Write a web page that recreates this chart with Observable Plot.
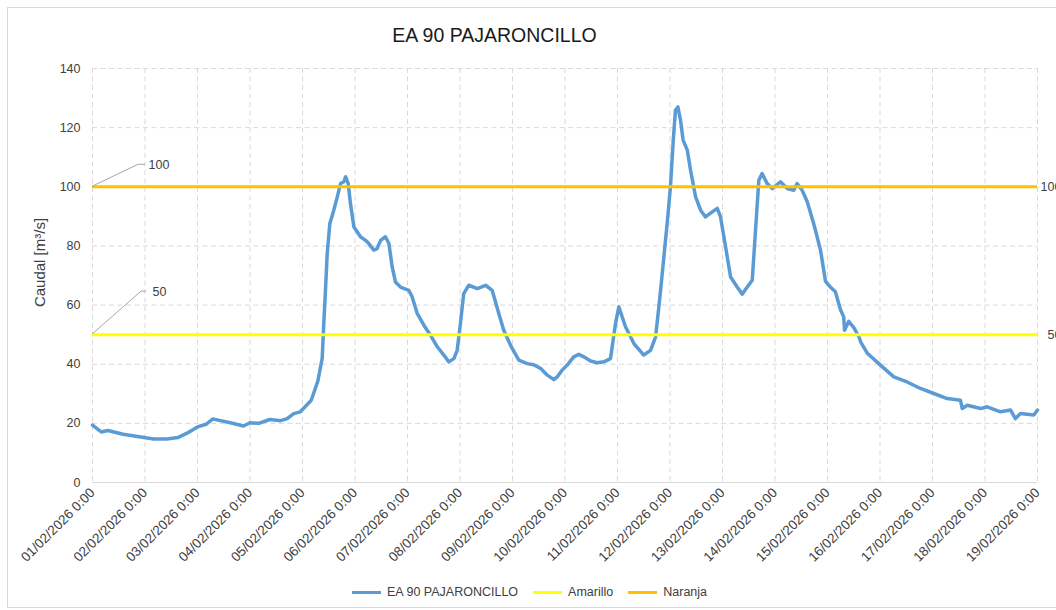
<!DOCTYPE html>
<html><head><meta charset="utf-8">
<script src="https://cdn.jsdelivr.net/npm/d3@7"></script>
<script src="https://cdn.jsdelivr.net/npm/@observablehq/plot@0.6"></script>
<style>
body{margin:0;background:#fff;font-family:"Liberation Sans",Arial,sans-serif;overflow:hidden}
#wrap{position:relative;width:1056px;height:610px;overflow:hidden;background:#fff}
#frame{position:absolute;left:7px;top:7px;width:1070px;height:601px;border:1px solid #d9d9d9;box-sizing:border-box}
#title{position:absolute;left:0;width:989px;top:24px;text-align:center;font-size:19.5px;color:#1a1a1a}
#chart{position:absolute;left:0;top:0}
#legend{position:absolute;top:585px;left:352px;display:flex;align-items:center;font-size:12.5px;color:#404040;white-space:nowrap}
#legend .it{display:flex;align-items:center;margin-right:15px}
#legend .sw{width:29px;height:3px;margin-right:6px}
</style>
</head><body>
<div id="wrap">
  <div id="frame"></div>
  <div id="chart"></div>
  <div id="title">EA 90 PAJARONCILLO</div>
  <div id="legend"></div>
</div>
<script>
// ---- data ----
const serieNombre = "EA 90 PAJARONCILLO";
const horas = [0,4,7,14,22,28,34,39,43,48,52,55,58,63,69,72,76,81,86,89,92,95,100,103,105,105.8,106.5,107.3,108.5,110.3,111.9,113.4,114.9,115.7,116.9,117.9,119.5,122.5,124.8,126.3,128.6,130.1,131.7,133.9,135.5,137,138.5,140.8,144.6,146.1,148.4,151.5,154.5,157.6,160.6,162.9,165.2,166.7,168.2,169.7,172,175.9,179.7,182.7,185.7,188,191.1,194.9,198.7,201.7,204.8,207.9,210.9,212.4,214.7,217,220,222.3,224.6,227.7,230.7,233.7,236.8,239.1,240.6,243.7,247.5,252,255.1,257.4,258.9,259.7,261.2,262.7,264.2,265.5,266.5,267.6,268.8,270,271.9,273.4,275.7,278,280.2,283.3,285.6,287.1,289.4,291.7,294.7,297,299.3,301.6,303.1,304.6,306.1,308.4,310.7,314.5,317.6,320.6,322.1,324.4,326.7,329.7,332.8,335.1,337.3,339.6,341.9,343.4,343.8,345.7,348.1,350.4,351.2,354.3,360.2,366.3,372.4,378.5,384.6,390.7,396.8,397.6,399.9,406,409,415.1,419.7,421.9,424.2,430.3,432];
const caudal = [19.4,17.1,17.6,16.3,15.4,14.7,14.7,15.2,16.6,18.8,19.7,21.5,21.0,20.2,19.1,20.2,20.0,21.3,20.9,21.6,23.3,23.9,27.8,34.3,42,54.9,65,77.4,87.6,92.1,96.6,101.1,101.7,103.4,101.1,94.4,86.4,83.1,81.9,80.8,78.6,79.1,81.9,83.1,80.8,72.9,67.8,66.1,65.0,62.8,57.2,53.2,49.8,45.9,43.1,40.8,41.9,44.7,53.8,63.9,66.7,65.6,66.7,65.0,57.2,51.5,46.4,41.4,40.2,39.8,38.6,36.3,34.8,35.7,38.0,39.7,42.5,43.3,42.5,41.1,40.5,40.8,41.9,53.8,59.4,52.6,47.0,43.1,44.7,49.2,59.4,65,76.3,87.6,100,115.8,125.9,127,122.5,115.8,112.4,105.6,96.6,92.1,89.8,91.5,92.7,89.8,79.7,69.5,66.1,63.7,66.1,68.4,85.3,102.2,104.5,101.1,99.4,101.7,99.4,98.8,101.1,98.8,95,87.5,78.6,68,66.1,64.5,58.5,56.0,51.5,54.5,52.3,49.2,47.5,43.6,39.7,35.7,34.0,31.8,30.1,28.4,27.8,25.0,26.1,25.0,25.6,23.9,24.5,21.6,23.3,22.8,24.5];
const umbralNombres = ["Amarillo","Naranja"];
const umbralValores = [50,100];
const umbralColores = ["#ffff00","#ffc000"];
const yTicks = [0,20,40,60,80,100,120,140];
const xTickLabels = ["01/02/2026 0:00","02/02/2026 0:00","03/02/2026 0:00","04/02/2026 0:00","05/02/2026 0:00","06/02/2026 0:00","07/02/2026 0:00","08/02/2026 0:00","09/02/2026 0:00","10/02/2026 0:00","11/02/2026 0:00","12/02/2026 0:00","13/02/2026 0:00","14/02/2026 0:00","15/02/2026 0:00","16/02/2026 0:00","17/02/2026 0:00","18/02/2026 0:00","19/02/2026 0:00"];
const yLabel = "Caudal [m³/s]";

// ---- build ----
const t0 = Date.UTC(2026,1,1);
const H = 3600e3;
const data = horas.map((h,i)=>({t:new Date(t0+h*H), v:caudal[i]}));
const xTicks = xTickLabels.map(s=>{const [d,m,y]=s.split(" ")[0].split("/").map(Number);return new Date(Date.UTC(y,m-1,d));});
const tEnd = xTicks[xTicks.length-1];
const tStart = xTicks[0];

const leftLabels = [
  {t:tStart, v:umbralValores[1], dx:56, dy:-22, lx:46, ln:7},
  {t:tStart, v:umbralValores[0], dx:60, dy:-43, lx:49, ln:5}
];
const rightLabels = [
  {t:tEnd, v:umbralValores[1], dx:3},
  {t:tEnd, v:umbralValores[0], dx:10}
];

const leaders = (index, scales) => {
  const g = d3.create("svg:g");
  for (const L of leftLabels) {
    const x = scales.x(L.t), y = scales.y(L.v);
    g.append("path")
      .attr("d", `M${x},${y}L${x+L.lx},${y+L.dy}h${L.ln}`)
      .attr("fill","none").attr("stroke","#a6a6a6").attr("stroke-width",1);
  }
  return g.node();
};

const chart = Plot.plot({
  width:1056, height:600,
  marginLeft:92, marginRight:19, marginTop:68, marginBottom:118,
  style:{fontFamily:"'Liberation Sans', Arial, sans-serif", fontSize:"12.5px", color:"#404040", background:"transparent", overflow:"visible"},
  x:{type:"utc", domain:[tStart,tEnd]},
  y:{domain:[0,140]},
  marks:[
    Plot.gridY(yTicks.filter(v=>v>0), {stroke:"#d9d9d9", strokeOpacity:1, strokeDasharray:"5,3.5"}),
    Plot.gridX(xTicks, {stroke:"#d9d9d9", strokeOpacity:1, strokeDasharray:"5,3.5"}),
    Plot.ruleY([0], {stroke:"#d9d9d9", strokeWidth:1}),
    Plot.axisY(yTicks, {tickSize:0, tickPadding:12, label:null, fill:"#404040"}),
    Plot.axisX(xTicks, {tickSize:0, tickPadding:8, tickRotate:-45, label:null, fill:"#404040", fontSize:13.5, tickFormat:(d,i)=>xTickLabels[i]}),
    Plot.text([yLabel], {frameAnchor:"left", dx:-52, dy:-13, rotate:-90, textAnchor:"middle", fontSize:15, fill:"#404040", text:d=>d}),
    Plot.line(data, {x:"t", y:"v", stroke:"#5b9bd5", strokeWidth:3.5, strokeLinejoin:"round"}),
    Plot.ruleY([umbralValores[0]], {stroke:umbralColores[0], strokeWidth:3}),
    Plot.ruleY([umbralValores[1]], {stroke:umbralColores[1], strokeWidth:3}),
    leaders,
    ...leftLabels.map(L=>Plot.text([L], {x:"t", y:"v", text:d=>String(d.v), dx:L.dx, dy:L.dy, textAnchor:"start", fill:"#404040"})),
    ...rightLabels.map(L=>Plot.text([L], {x:"t", y:"v", text:d=>String(d.v), dx:L.dx, textAnchor:"start", fill:"#404040"}))
  ]
});
document.getElementById("chart").appendChild(chart);

// legend
const leg = document.getElementById("legend");
const items = [{n:serieNombre,c:"#5b9bd5"}].concat(umbralNombres.map((n,i)=>({n,c:umbralColores[i]})));
for (const it of items) {
  const d = document.createElement("div"); d.className="it";
  const s = document.createElement("div"); s.className="sw"; s.style.background=it.c;
  const t = document.createElement("span"); t.textContent=it.n;
  d.appendChild(s); d.appendChild(t); leg.appendChild(d);
}
</script>
</body></html>
